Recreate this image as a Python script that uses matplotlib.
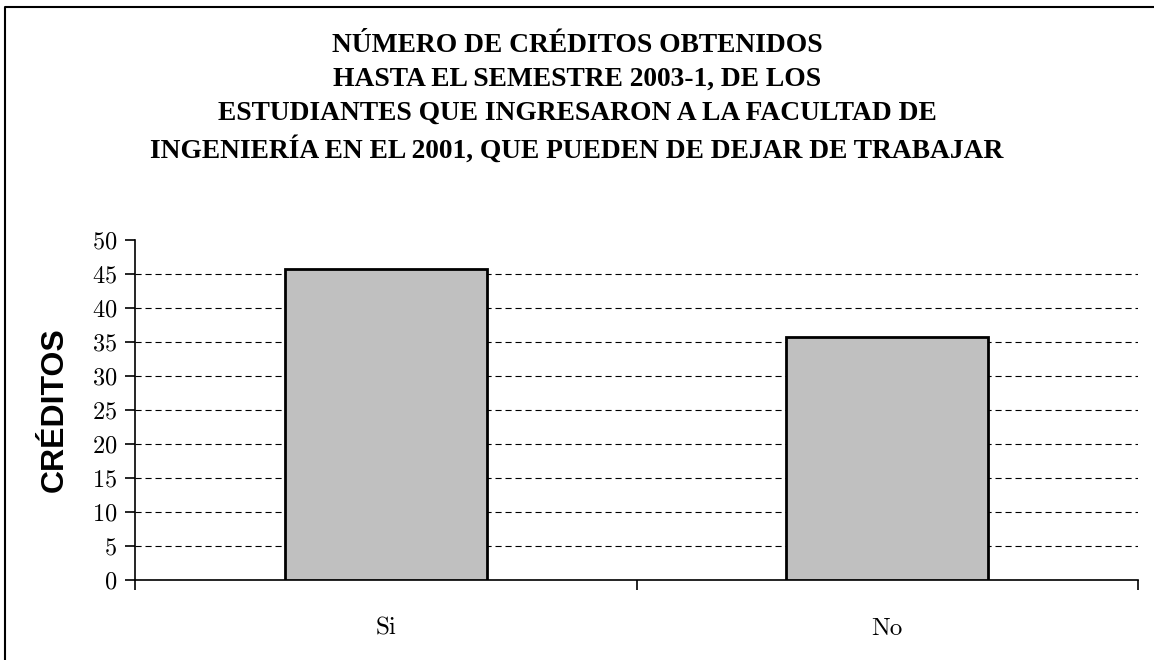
import matplotlib
matplotlib.use("Agg")
import matplotlib.pyplot as plt
from matplotlib.lines import Line2D

# data
categories = ["Si", "No"]
creditos = [45.7, 35.8]
title_lines = [
    "NÚMERO DE CRÉDITOS OBTENIDOS",
    "HASTA EL SEMESTRE 2003-1, DE LOS",
    "ESTUDIANTES QUE INGRESARON A LA FACULTAD DE",
    "INGENIERÍA EN EL 2001, QUE PUEDEN DE DEJAR DE TRABAJAR",
]
y_ticks = list(range(0, 51, 5))

plt.rcParams["axes.formatter.use_mathtext"] = True

W, H = 1154, 660
fig = plt.figure(figsize=(W / 100, H / 100), dpi=100)
fig.patch.set_facecolor("white")

# axes placed in pixel terms of the reference
left, right, top, bottom = 135, 1138, 240, 580
ax = fig.add_axes([left / W, 1 - bottom / H, (right - left) / W, (bottom - top) / H])

x = list(range(len(categories)))
ax.bar(x, creditos, width=0.403, color="#c0c0c0", edgecolor="black", linewidth=2, zorder=3)

ax.set_xlim(-0.5, len(categories) - 0.5)
ax.set_ylim(0, 50)
ax.set_yticks(y_ticks)
ax.yaxis.grid(True, color="black", linestyle=(0, (5.5, 3.5)), linewidth=0.8, zorder=1)
# no dashed line along the top (50) in the original
ax.yaxis.get_gridlines()[-1].set_visible(False)

for s in ["top", "right"]:
    ax.spines[s].set_visible(False)
for s in ["left", "bottom"]:
    ax.spines[s].set_linewidth(1.2)

ax.set_xticks(x)
ax.set_xticklabels(categories, fontfamily="cmr10", fontsize=18)
ax.set_xticks([i - 0.5 for i in range(len(categories) + 1)], minor=True)
ax.tick_params(axis="x", which="major", length=0, pad=27)
ax.tick_params(axis="x", which="minor", length=7, width=1.2, direction="out")
ax.tick_params(axis="y", length=7, width=1.2, direction="out", pad=6)
for lab in ax.get_yticklabels():
    lab.set_fontfamily("cmr10")
    lab.set_fontsize(17.5)

ax.set_ylabel("CRÉDITOS", fontfamily="Liberation Sans", fontweight="bold", fontsize=23, labelpad=16)

fig.text(577 / W, 1 - 98 / H, "\n".join(title_lines), ha="center", va="center",
         fontfamily="Liberation Serif", fontweight="bold", fontsize=19.8, linespacing=1.47)

# chart frame: only top and left edges fall inside the image
fig.add_artist(Line2D([5 / W, 5 / W, 1.0], [0.0, 1 - 7 / H, 1 - 7 / H],
                      transform=fig.transFigure, color="black", linewidth=1.5))

fig.savefig("out.png", dpi=100, facecolor="white")
